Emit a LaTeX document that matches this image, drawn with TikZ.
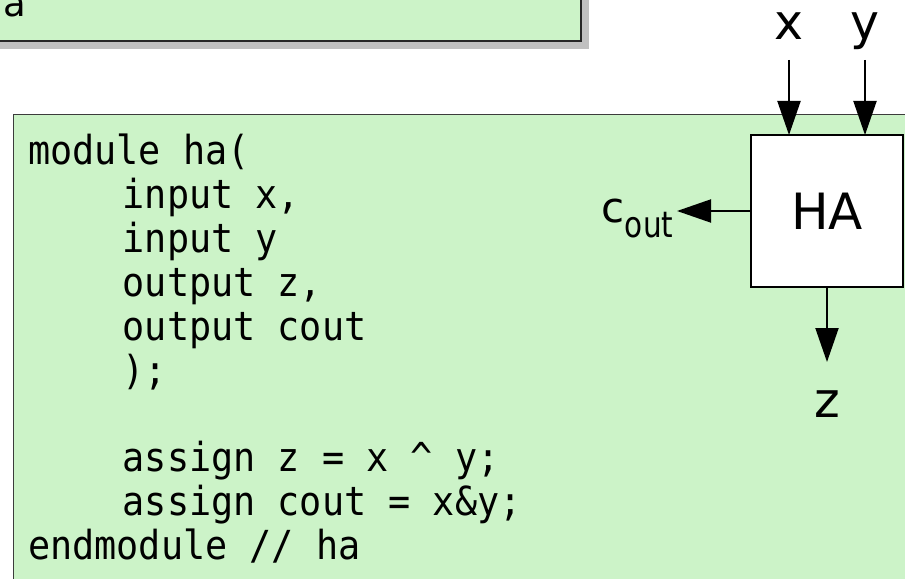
\documentclass[tikz,border=0pt]{standalone}
\usepackage{fontspec}
\setmainfont{DejaVu Sans}
\setmonofont{DejaVu Sans Mono}[FakeStretch=0.92]
\newfontfamily\condsans{DejaVu Sans}[FakeStretch=0.82]
\usetikzlibrary{arrows.meta}
\definecolor{boxgreen}{RGB}{204,243,200}
\definecolor{shadowgray}{RGB}{192,192,192}
\definecolor{edgegray}{RGB}{60,60,60}
\begin{document}
\begin{tikzpicture}[x=1bp,y=-1bp,
  codeline/.style={anchor=base west, inner sep=0pt, font=\ttfamily\fontsize{40bp}{44bp}\selectfont},
  lbl/.style={anchor=base, inner sep=0pt, font=\fontsize{49bp}{58bp}\selectfont},
  wire/.style={line width=2bp, -{Triangle[length=34bp,width=23bp]}},
  blockbox/.style={draw, line width=2bp, fill=white, minimum width=152bp, minimum height=152bp, inner sep=0pt, outer sep=0pt, font=\fontsize{50bp}{58bp}\selectfont}
]
\useasboundingbox (0,0) rectangle (905,579);
\begin{scope}
\clip (0,0) rectangle (905,579);
% top panel with shadow
\fill[shadowgray] (-30,-30) rectangle (589,49);
\draw[fill=boxgreen, line width=1.3bp, draw=black!85] (-30,-30) rectangle (581,41);
\node[anchor=base west, inner sep=0pt, font=\fontsize{37bp}{44bp}\selectfont] (ta) at (3,17) {a};
% main code panel
\draw[fill=boxgreen, line width=1bp, draw=edgegray] (13.5,114.5) rectangle (930,610);
% code lines
\node[codeline] (l1) at (28,165) {module ha(};
\node[codeline] (l2) at (122.5,208.8) {input x,};
\node[codeline] (l3) at (122.5,252.6) {input y};
\node[codeline] (l4) at (122.5,296.4) {output z,};
\node[codeline] (l5) at (122.5,340.2) {output cout};
\node[codeline] (l6) at (122.5,384) {);};
\node[codeline] (l8) at (122.5,471.6) {assign z = x \textasciicircum\ y;};
\node[codeline] (l9) at (122.5,515.4) {assign cout = x\&y;};
\node[codeline] (l10) at (28,559.2) {endmodule // ha};
% half adder block
\node[blockbox] (ha) at (827,211) {HA};
\coordinate (xin) at (789,60);
\coordinate (yin) at (865,60);
\coordinate (coutend) at (677,211);
\coordinate (zend) at (827,362);
\draw[wire] (xin) -- (xin |- ha.north);
\draw[wire] (yin) -- (yin |- ha.north);
\draw[wire] (ha.west) -- (coutend);
\draw[wire] (ha.south) -- (zend);
\node[lbl] (xl) at (789,40) {x};
\node[lbl] (yl) at (865,40) {y};
\node[lbl] (zl) at (827,417) {z};
\node[anchor=base west, inner sep=0pt] (cl) at (601.7,223) {\fontsize{42bp}{50bp}\selectfont c\raisebox{-15bp}{\condsans\fontsize{36bp}{43bp}\selectfont out}};
\end{scope}
\end{tikzpicture}
\end{document}
